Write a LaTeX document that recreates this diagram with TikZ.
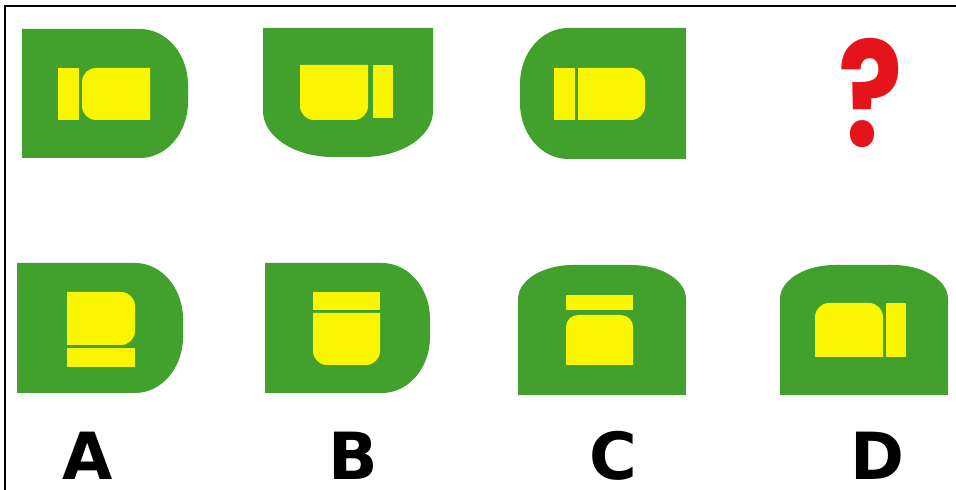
\documentclass[tikz,border=0pt]{standalone}
\usepackage{fontspec}
\setsansfont{DejaVu Sans}
\newfontfamily\askfont{Poppins}
\definecolor{leaf}{HTML}{42A02C}
\definecolor{lemon}{HTML}{FAF500}
\definecolor{mark}{HTML}{E5141B}
\tikzset{
  shell/.style={fill=leaf},
  core/.style={fill=lemon},
  optlabel/.style={anchor=base, inner sep=0pt, font=\sffamily\bfseries\fontsize{65}{65}\selectfont},
  ask/.style={anchor=base, inner sep=0pt, text=mark, font=\askfont\bfseries\fontsize{146}{146}\selectfont}}

\begin{document}
\begin{tikzpicture}[x=1pt, y=1pt]
\useasboundingbox (0,0) rectangle (956,490);
\draw[line width=1.5pt] (5,0) -- (5,484) -- (956,484);
\fill[shell] (22,332) -- (22,461) -- (140,461) arc[start angle=90, end angle=0, x radius=48, y radius=56] -- (188,388) arc[start angle=0, end angle=-90, x radius=48, y radius=56] -- cycle;
\fill[core] (58,370) rectangle (79,422);
\fill[core] (150,370) -- (150,422) -- (96,422) arc[start angle=90, end angle=180, radius=14] -- (82,384) arc[start angle=180, end angle=270, radius=14] -- cycle;
\fill[shell] (263,462) -- (433,462) -- (433,379) arc[start angle=0, end angle=-90, x radius=70, y radius=46] -- (333,333) arc[start angle=270, end angle=180, x radius=70, y radius=46] -- cycle;
\fill[core] (300,425) -- (368,425) -- (368,384) arc[start angle=0, end angle=-90, radius=14] -- (314,370) arc[start angle=270, end angle=180, radius=14] -- cycle;
\fill[core] (373,372) rectangle (393,425);
\fill[shell] (686,331) -- (686,462) -- (568,462) arc[start angle=90, end angle=180, x radius=48, y radius=56] -- (520,387) arc[start angle=180, end angle=270, x radius=48, y radius=56] -- cycle;
\fill[core] (554,370) rectangle (575,422);
\fill[core] (578,370) -- (578,422) -- (631,422) arc[start angle=90, end angle=0, radius=14] -- (645,384) arc[start angle=0, end angle=-90, radius=14] -- cycle;
\node[ask] (what) at (871,343) {\scalebox{0.82}[1]{?}};
\fill[shell] (17,97) -- (17,227) -- (135,227) arc[start angle=90, end angle=0, x radius=48, y radius=56] -- (183,153) arc[start angle=0, end angle=-90, x radius=48, y radius=56] -- cycle;
\fill[core] (67,145) -- (67,198) -- (121,198) arc[start angle=90, end angle=0, radius=14] -- (135,159) arc[start angle=0, end angle=-90, radius=14] -- cycle;
\fill[core] (67,123) rectangle (135,142);
\fill[shell] (265,97) -- (265,227) -- (382,227) arc[start angle=90, end angle=0, x radius=48, y radius=56] -- (430,153) arc[start angle=0, end angle=-90, x radius=48, y radius=56] -- cycle;
\fill[core] (313,180) rectangle (380,198);
\fill[core] (313,177) -- (380,177) -- (380,139) arc[start angle=0, end angle=-90, radius=14] -- (327,125) arc[start angle=270, end angle=180, radius=14] -- cycle;
\fill[shell] (518,95) -- (686,95) -- (686,191) arc[start angle=0, end angle=90, x radius=55, y radius=34] -- (573,225) arc[start angle=90, end angle=180, x radius=55, y radius=34] -- cycle;
\fill[core] (566,180) rectangle (633,195);
\fill[core] (566,125) -- (633,125) -- (633,163) arc[start angle=0, end angle=90, radius=12] -- (578,175) arc[start angle=90, end angle=180, radius=12] -- cycle;
\fill[shell] (780,95) -- (948,95) -- (948,191) arc[start angle=0, end angle=90, x radius=55, y radius=34] -- (835,225) arc[start angle=90, end angle=180, x radius=55, y radius=34] -- cycle;
\fill[core] (815,133) -- (883,133) -- (883,173) arc[start angle=0, end angle=90, radius=14] -- (829,187) arc[start angle=90, end angle=180, radius=14] -- cycle;
\fill[core] (886,133) rectangle (906,187);
\node[optlabel] (optA) at (88,10) {A};
\node[optlabel] (optB) at (353,10) {B};
\node[optlabel] (optC) at (613,10) {C};
\node[optlabel] (optD) at (877,10) {D};
\end{tikzpicture}
\end{document}
